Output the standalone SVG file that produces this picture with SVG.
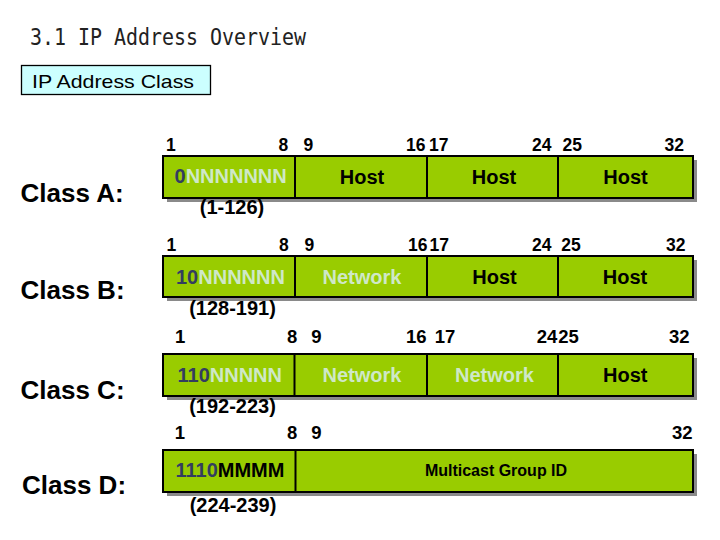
<svg xmlns="http://www.w3.org/2000/svg" width="720" height="540" viewBox="0 0 720 540">
<style>
.title{font-family:"DejaVu Sans Mono","Liberation Mono",monospace;font-size:23px;fill:#222}
.hdr{font-family:"Liberation Sans",Arial,sans-serif;font-size:19px;fill:#000}
.cls{font-family:"Liberation Sans",Arial,sans-serif;font-size:26px;font-weight:bold;fill:#000}
.num{font-family:"Liberation Sans",Arial,sans-serif;font-size:17.5px;font-weight:bold;fill:#000}
.num2{font-family:"Liberation Sans",Arial,sans-serif;font-size:18.5px;font-weight:bold;fill:#000}
.rng{font-family:"Liberation Sans",Arial,sans-serif;font-size:20px;font-weight:bold;fill:#000;text-anchor:middle}
.cell{font-family:"Liberation Sans",Arial,sans-serif;font-size:20px;font-weight:bold;fill:#000}
.mid{text-anchor:middle}
.lt{fill:#cfe8c8}
.dk{fill:#333d60}
.bk{fill:#000}
.small{font-size:16px}
.box{fill:#99cc00;stroke:#000;stroke-width:2}
.shadow{fill:#8a8a8a}
.div{stroke:#000;stroke-width:2}
</style>

<text class="title" x="30" y="45" textLength="276" lengthAdjust="spacingAndGlyphs">3.1 IP Address Overview</text>

<g id="ip-address-class">
<rect x="21.5" y="65.5" width="189" height="29" fill="#ccffff" stroke="#000" stroke-width="1.3"/>
<text class="hdr" x="32" y="88" textLength="162" lengthAdjust="spacingAndGlyphs">IP Address Class</text>
</g>

<g id="class-a">
<text class="cls" x="20.5" y="201.5">Class A:</text>
<text class="num" x="166" y="151">1</text>
<text class="num" x="278.5" y="151">8</text>
<text class="num" x="303.5" y="151">9</text>
<text class="num" x="406" y="151">16</text>
<text class="num" x="429" y="151">17</text>
<text class="num" x="532" y="151">24</text>
<text class="num" x="562.5" y="151">25</text>
<text class="num" x="664.5" y="151">32</text>
<rect class="shadow" x="167" y="160" width="530" height="42"/>
<rect class="box" x="163" y="156" width="530" height="42"/>
<line class="div" x1="295" y1="156" x2="295" y2="198"/>
<line class="div" x1="427" y1="156" x2="427" y2="198"/>
<line class="div" x1="558" y1="156" x2="558" y2="198"/>
<text class="cell" x="174.5" y="182.5"><tspan class="dk">0</tspan><tspan class="lt">NNNNNNN</tspan></text>
<text class="cell mid" x="362" y="184">Host</text>
<text class="cell mid" x="494" y="184">Host</text>
<text class="cell mid" x="625.5" y="184">Host</text>
<text class="rng" x="232" y="214">(1-126)</text>
</g>

<g id="class-b">
<text class="cls" x="20.5" y="298.5">Class B:</text>
<text class="num" x="166.5" y="251">1</text>
<text class="num" x="279" y="251">8</text>
<text class="num" x="304.5" y="251">9</text>
<text class="num" x="408" y="251">16</text>
<text class="num" x="429.5" y="251">17</text>
<text class="num" x="532" y="251">24</text>
<text class="num" x="561.2" y="251">25</text>
<text class="num" x="666" y="251">32</text>
<rect class="shadow" x="167" y="260" width="530" height="41"/>
<rect class="box" x="163" y="256" width="530" height="41"/>
<line class="div" x1="295" y1="256" x2="295" y2="297"/>
<line class="div" x1="427" y1="256" x2="427" y2="297"/>
<line class="div" x1="558" y1="256" x2="558" y2="297"/>
<text class="cell" x="176" y="283.5"><tspan class="dk">10</tspan><tspan class="lt">NNNNNN</tspan></text>
<text class="cell mid lt" x="362" y="283.5">Network</text>
<text class="cell mid" x="494.5" y="283.5">Host</text>
<text class="cell mid" x="625" y="283.5">Host</text>
<text class="rng" x="232.5" y="315">(128-191)</text>
</g>

<g id="class-c">
<text class="cls" x="20.5" y="398.5">Class C:</text>
<text class="num2" x="175" y="343">1</text>
<text class="num2" x="287" y="343">8</text>
<text class="num2" x="311.2" y="343">9</text>
<text class="num2" x="406" y="343">16</text>
<text class="num2" x="434.7" y="343">17</text>
<text class="num2" x="536.8" y="343">24</text>
<text class="num2" x="558.3" y="343">25</text>
<text class="num2" x="669" y="343">32</text>
<rect class="shadow" x="167" y="358" width="530" height="42"/>
<rect class="box" x="163" y="354" width="530" height="42"/>
<line class="div" x1="294.5" y1="354" x2="294.5" y2="396"/>
<line class="div" x1="427" y1="354" x2="427" y2="396"/>
<line class="div" x1="558" y1="354" x2="558" y2="396"/>
<text class="cell" x="177.5" y="381.5"><tspan class="dk">110</tspan><tspan class="lt">NNNNN</tspan></text>
<text class="cell mid lt" x="362" y="381.5">Network</text>
<text class="cell mid lt" x="494.5" y="381.5">Network</text>
<text class="cell mid" x="625.3" y="381.5">Host</text>
<text class="rng" x="232.5" y="413">(192-223)</text>
</g>

<g id="class-d">
<text class="cls" x="22" y="493.5">Class D:</text>
<text class="num2" x="174.7" y="438.5">1</text>
<text class="num2" x="287" y="438.5">8</text>
<text class="num2" x="311.2" y="438.5">9</text>
<text class="num2" x="672" y="438.5">32</text>
<rect class="shadow" x="167" y="454" width="530" height="42"/>
<rect class="box" x="163" y="450" width="530" height="42"/>
<line class="div" x1="295.5" y1="450" x2="295.5" y2="492"/>
<text class="cell" x="175.5" y="477"><tspan class="dk">1110</tspan><tspan class="bk">MMMM</tspan></text>
<text class="cell mid small" x="496" y="476">Multicast Group ID</text>
<text class="rng" x="233" y="511.5">(224-239)</text>
</g>
</svg>
